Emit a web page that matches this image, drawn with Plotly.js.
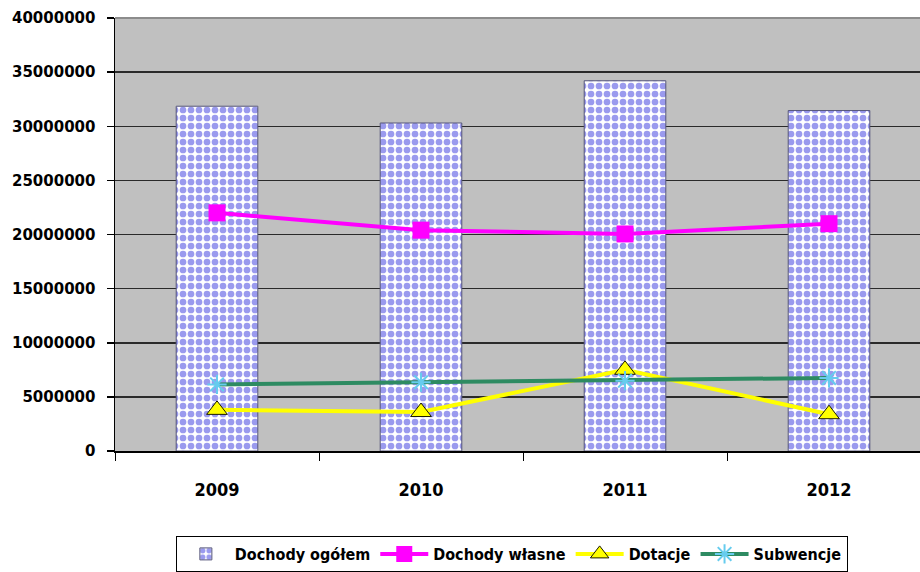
<!DOCTYPE html>
<html>
<head>
<meta charset="utf-8">
<script src="https://cdn.plot.ly/plotly-3.0.1.min.js"></script>
<style>
  html, body { margin: 0; padding: 0; background: #ffffff; }
  #chart { width: 920px; height: 572px; }
</style>
</head>
<body>
<div id="chart"></div>
<script>
// Budżet gminy 2009–2012: dochody ogółem i ich składniki
const years = ['2009', '2010', '2011', '2012'];
const dochodyOgolem = [31850000, 30300000, 34200000, 31450000];
const dochodyWlasne = [22000000, 20400000, 20050000, 21000000];
const dotacje = [3800000, 3600000, 7500000, 3400000];
const subwencje = [6150000, 6350000, 6500000, 6750000];
const yTicks = [0, 5000000, 10000000, 15000000, 20000000, 25000000, 30000000, 35000000, 40000000];

const labelFont = 'DejaVu Sans Condensed, DejaVu Sans, sans-serif';

const traces = [
  {
    type: 'bar',
    name: 'Dochody ogółem',
    x: years,
    y: dochodyOgolem,
    marker: {
      color: '#a0a0f2',
      pattern: { shape: '.', fgcolor: '#9a9aee', bgcolor: '#ffffff', size: 8, solidity: 0.55, fillmode: 'replace' },
      line: { color: '#55557a', width: 1 }
    },
    hoverinfo: 'x+y'
  },
  {
    type: 'scatter',
    mode: 'lines+markers',
    name: 'Dochody własne',
    x: years,
    y: dochodyWlasne,
    line: { color: '#ff00ff', width: 4 },
    marker: { symbol: 'square', size: 17, color: '#ff00ff' }
  },
  {
    type: 'scatter',
    mode: 'lines+markers',
    name: 'Dotacje',
    x: years,
    y: dotacje,
    line: { color: '#ffff00', width: 4 },
    marker: { symbol: 'triangle-up', size: 18, color: '#ffff00', line: { color: '#1a1a00', width: 1 } }
  },
  {
    type: 'scatter',
    mode: 'lines+markers',
    name: 'Subwencje',
    x: years,
    y: subwencje,
    line: { color: '#2e8b62', width: 4 },
    marker: { symbol: 'asterisk-open', size: 16, color: '#66ccee', line: { color: '#55c8ee', width: 2 } }
  }
];

const layout = {
  width: 920,
  height: 572,
  margin: { l: 115, r: 0, t: 18, b: 121, pad: 0 },
  paper_bgcolor: '#ffffff',
  plot_bgcolor: '#c0c0c0',
  bargap: 0.6,
  showlegend: true,
  legend: {
    orientation: 'h',
    x: 0.493,
    xanchor: 'center',
    y: -0.238,
    yanchor: 'middle',
    bgcolor: '#ffffff',
    bordercolor: '#000000',
    borderwidth: 1,
    font: { family: labelFont, size: 16, color: '#000000', weight: 'bold' },
    itemwidth: 48,
    tracegroupgap: 0
  },
  xaxis: {
    type: 'category',
    range: [-0.5, 3.446],
    tickson: 'boundaries',
    ticks: 'outside',
    ticklen: 8,
    tickwidth: 1,
    tickcolor: '#000000',
    showgrid: false,
    showline: true,
    linecolor: '#000000',
    linewidth: 1.5,
    ticklabelstandoff: 22,
    tickfont: { family: labelFont, size: 18, color: '#000000', weight: 'bold' },
    fixedrange: true
  },
  yaxis: {
    range: [0, 40000000],
    tickvals: yTicks,
    tickformat: 'd',
    ticks: 'outside',
    ticklen: 7,
    tickwidth: 1.5,
    tickcolor: '#000000',
    showgrid: true,
    gridcolor: '#2a2a2a',
    gridwidth: 1.5,
    zeroline: false,
    showline: true,
    linecolor: '#000000',
    linewidth: 1.5,
    ticklabelstandoff: 8,
    tickfont: { family: 'DejaVu Sans, sans-serif', size: 15, color: '#000000', weight: 'bold' },
    fixedrange: true
  },
  // lighter frame along the top edge of the plot area
  shapes: [
    { type: 'line', xref: 'paper', yref: 'paper', x0: 0, x1: 1, y0: 1, y1: 1,
      line: { color: '#8c8c8c', width: 2 } }
  ]
};

Plotly.newPlot('chart', traces, layout, { displayModeBar: false, staticPlot: true });
</script>
</body>
</html>
